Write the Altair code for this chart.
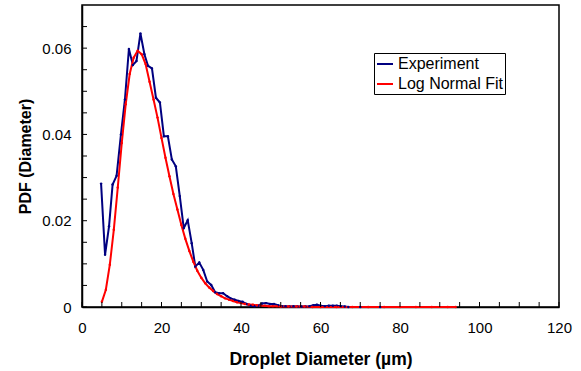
import altair as alt
import pandas as pd

# ---- data ----
exp_d = [4.8, 5.8, 6.8, 7.7, 8.7, 9.8, 10.8, 11.8, 12.8, 13.7, 14.7, 15.7, 16.6, 17.6,
         18.6, 19.6, 20.6, 21.6, 22.6, 23.6, 24.6, 25.6, 26.6, 27.6, 28.5, 29.5, 30.5,
         31.5, 32.5, 33.5, 34.5, 35.5, 36.5, 37.4, 38.4, 39.4, 40.4, 41.4, 42.4, 43.4,
         44.4, 45.3, 46.3, 47.3, 48.3, 49.3, 50.3, 51.2, 52.2, 53.2, 54.2, 55.2, 56.2,
         57.2, 58.2, 59.1, 60.1, 61.1, 62.1, 63.1, 64.1, 65.1, 66.1, 67.0, 70.0, 75.0]
exp_pdf = [0.0286, 0.0121, 0.0187, 0.0284, 0.0304, 0.0400, 0.0481, 0.0598, 0.0561, 0.0570,
           0.0634, 0.0586, 0.0559, 0.0553, 0.0485, 0.0474, 0.0396, 0.0396, 0.0342, 0.0326,
           0.0257, 0.0183, 0.0201, 0.0148, 0.0094, 0.0103, 0.0086, 0.0059, 0.0051, 0.0034,
           0.0032, 0.0032, 0.0025, 0.0020, 0.0017, 0.0014, 0.0012, 0.0007, 0.0003, 0.0002,
           0.0003, 0.0008, 0.0009, 0.0007, 0.0007, 0.0004, 0.0002, 0.0002, 0.0001, 0.0002,
           0.0001, 0.0001, 0.0001, 0.0002, 0.0004, 0.0005, 0.0003, 0.0002, 0.0003, 0.0003,
           0.0003, 0.0002, 0.0001, 0.0000, 0.0000, 0.0000]

fit_d = [5, 6, 7, 8, 9, 10, 11, 12, 13, 14, 15, 16, 17, 18, 19, 20, 21, 22, 23, 24, 25,
         26, 27, 28, 29, 30, 31, 32, 33, 34, 35, 36, 37, 38, 39, 40, 41, 42, 43, 44, 45,
         46, 47, 48, 49, 50, 52, 54, 56, 58, 60, 64, 68, 72, 76, 80, 84, 88, 92, 94]
fit_pdf = [0.0012, 0.0040, 0.0098, 0.0179, 0.0277, 0.0380, 0.0470, 0.0540, 0.0578, 0.0594,
           0.0586, 0.0563, 0.0522, 0.0481, 0.0439, 0.0392, 0.0346, 0.0303, 0.0262, 0.0226,
           0.0190, 0.0158, 0.0130, 0.0105, 0.0084, 0.0068, 0.0055, 0.0045, 0.0037, 0.0030,
           0.0025, 0.0020, 0.0017, 0.0014, 0.0011, 0.0009, 0.0007, 0.0006, 0.0005, 0.0004,
           0.0003, 0.0003, 0.0002, 0.0002, 0.0002, 0.0001, 0.0001, 0.0001, 0.0001, 0.0000,
           0.0000, 0.0000, 0.0000, 0.0000, 0.0000, 0.0000, 0.0000, 0.0000, 0.0000, 0.0000]

series_names = ["Experiment", "Log Normal Fit"]
series_colors = ["#000080", "#FF0000"]

x_labels = [0, 20, 40, 60, 80, 100, 120]
y_labels = [0, 0.02, 0.04, 0.06]
x_ticks = [0, 5, 10, 15, 20, 25, 30, 35, 40, 45, 50, 55, 60, 65, 70, 75, 80, 85, 90,
           95, 100, 105, 110, 115, 120]
y_ticks = [0, 0.005, 0.01, 0.015, 0.02, 0.025, 0.03, 0.035, 0.04, 0.045, 0.05,
           0.055, 0.06, 0.065]

df = pd.concat([
    pd.DataFrame({"d": exp_d, "pdf": exp_pdf, "series": series_names[0]}),
    pd.DataFrame({"d": fit_d, "pdf": fit_pdf, "series": series_names[1]}),
])

FONT = "Liberation Sans"
W, H = 477, 302

xs = alt.Scale(domain=[0, 120], nice=False, zero=False)
ys = alt.Scale(domain=[0, 0.07], nice=False)

x_axis = alt.Axis(
    values=x_labels, ticks=False, grid=False, labelFontSize=15, labelFont=FONT,
    labelColor="black", labelPadding=13, labelFlush=False, labelOverlap=False,
    title="Droplet Diameter (µm)",
    titleFont=FONT, titleFontSize=17.5, titleFontWeight="bold", titleColor="black",
    titlePadding=15, domainColor="black", domainWidth=1.5)
y_axis = alt.Axis(
    values=y_labels, ticks=False, grid=False, labelFontSize=15, labelFont=FONT,
    labelColor="black", labelPadding=11, labelFlush=False, labelOverlap=False,
    labelExpr="datum.value == 0 ? '0' : format(datum.value, '.2f')",
    title="PDF (Diameter)", titleFont=FONT, titleFontSize=16, titleFontWeight="bold",
    titleColor="black", titlePadding=8, domainColor="black", domainWidth=1.5)

x_enc = alt.X("d:Q", scale=xs, axis=x_axis)
y_enc = alt.Y("pdf:Q", scale=ys, axis=y_axis)
color_enc = alt.Color("series:N", scale=alt.Scale(domain=series_names, range=series_colors),
                      legend=alt.Legend(title=None, orient="none", legendX=292, legendY=48,
                                        strokeColor="black", fillColor="white", padding=2,
                                        symbolType="stroke", symbolSize=256,
                                        symbolStrokeWidth=2, labelFontSize=16,
                                        labelFont=FONT, labelColor="black",
                                        rowPadding=3, labelOffset=4))

lines = alt.Chart(df).mark_line(strokeWidth=2).encode(x=x_enc, y=y_enc, color=color_enc)
points = alt.Chart(df).mark_point(filled=True, size=6, opacity=1).encode(
    x=x_enc, y=y_enc, color=color_enc)

xt = alt.Chart(pd.DataFrame({"t": x_ticks})).mark_rule(color="black", strokeWidth=1).encode(
    x=alt.X("t:Q", scale=xs, axis=x_axis), y=alt.value(H), y2=alt.value(H - 5))
yt = alt.Chart(pd.DataFrame({"t": y_ticks})).mark_rule(color="black", strokeWidth=1).encode(
    y=alt.Y("t:Q", scale=ys, axis=y_axis), x=alt.value(0), x2=alt.value(5))

chart = alt.layer(lines, points, xt, yt).properties(
    width=W, height=H,
    autosize=alt.AutoSizeParams(type="none"),
    padding={"left": 82, "top": 5, "right": 581 - 82 - W, "bottom": 371 - 5 - H},
    background="white",
).configure_view(stroke="black", strokeWidth=1.5)

chart.save("out.html", embed_options={"renderer": "svg", "actions": False})
